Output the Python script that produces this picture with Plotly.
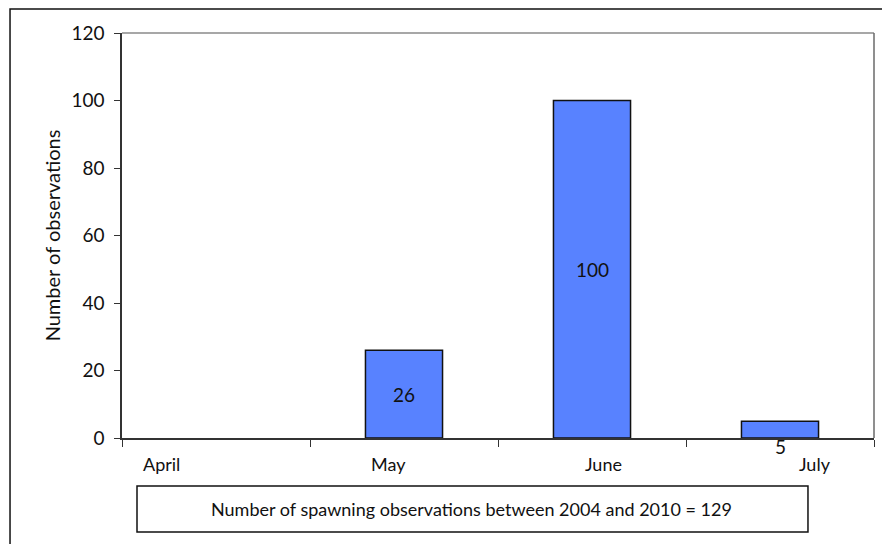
import plotly.graph_objects as go

# Spawning observations per month (2004-2010)
months = ["April", "May", "June", "July"]
observations = [0, 26, 100, 5]
y_ticks = [0, 20, 40, 60, 80, 100, 120]
y_title = "Number of observations"
summary_text = "Number of spawning observations between 2004 and 2010 = 129"

FONT = "Lato, 'Open Sans', sans-serif"
BAR_COLOR = "#5882ff"
INK = "#111111"

# Label placement tweaks (pixels)
label_xshift = [-55, -16, 11, 35]
value_yshift = [0, 0, 0, -17]

fig = go.Figure()
fig.add_trace(go.Bar(
    x=months,
    y=observations,
    width=0.41,
    marker=dict(
        color=BAR_COLOR,
        line=dict(color=INK, width=[1.5 if v > 0 else 0 for v in observations]),
    ),
    hoverinfo="x+y",
))

annotations = []
# value labels centred in each bar
for m, v, dy in zip(months, observations, value_yshift):
    if v > 0:
        annotations.append(dict(
            x=m, y=v / 2, xref="x", yref="y", text=str(v), showarrow=False,
            yanchor="middle", yshift=dy, font=dict(family=FONT, size=19, color=INK),
        ))
# month labels under the axis
for m, dx in zip(months, label_xshift):
    annotations.append(dict(
        x=m, y=0, xref="x", yref="paper", text=m, showarrow=False,
        xanchor="center", yanchor="middle", xshift=dx, yshift=-26,
        font=dict(family=FONT, size=18, color=INK),
    ))
# summary box text
annotations.append(dict(
    x=0.4654, y=-0.1753, xref="paper", yref="paper", text=summary_text,
    showarrow=False, xanchor="center", yanchor="middle",
    font=dict(family=FONT, size=18, color=INK),
))

shapes = [
    # outer frame
    dict(type="rect", xref="paper", yref="paper", x0=-0.1489, x1=1.03,
         y0=-0.30, y1=1.0593, line=dict(color=INK, width=1.5), layer="below"),
    # plot area top and right edges
    dict(type="line", xref="paper", yref="paper", x0=0, x1=1, y0=1, y1=1,
         line=dict(color="#8a8a8a", width=1.5)),
    dict(type="line", xref="paper", yref="paper", x0=1, x1=1, y0=0, y1=1,
         line=dict(color="#6a6a6a", width=1.5)),
    # summary box
    dict(type="rect", xref="paper", yref="paper", x0=0.01995, x1=0.9122,
         y0=-0.2321, y1=-0.1185, line=dict(color=INK, width=1.5)),
]

fig.update_layout(
    width=882, height=544,
    margin=dict(l=122, r=8, t=33, b=106),
    paper_bgcolor="white", plot_bgcolor="white",
    showlegend=False,
    font=dict(family=FONT, size=19, color=INK),
    annotations=annotations,
    shapes=shapes,
)
fig.update_xaxes(
    type="category", categoryorder="array", categoryarray=months,
    showticklabels=False, showgrid=False, zeroline=False,
    showline=True, linecolor="#333333", linewidth=1.5,
    ticks="outside", ticklen=7, tickcolor="#333333", tickwidth=1.2,
    tickson="boundaries",
)
fig.update_yaxes(
    range=[0, 120], tickvals=y_ticks, showgrid=False, zeroline=False,
    showline=True, linecolor="#333333", linewidth=1.5,
    ticks="outside", ticklen=6, tickcolor="#333333", tickwidth=1.2,
    ticklabelstandoff=6,
    tickfont=dict(family=FONT, size=19, color=INK),
    title=dict(text=y_title, font=dict(family=FONT, size=20, color=INK), standoff=5),
)

fig.write_html("out.html")
